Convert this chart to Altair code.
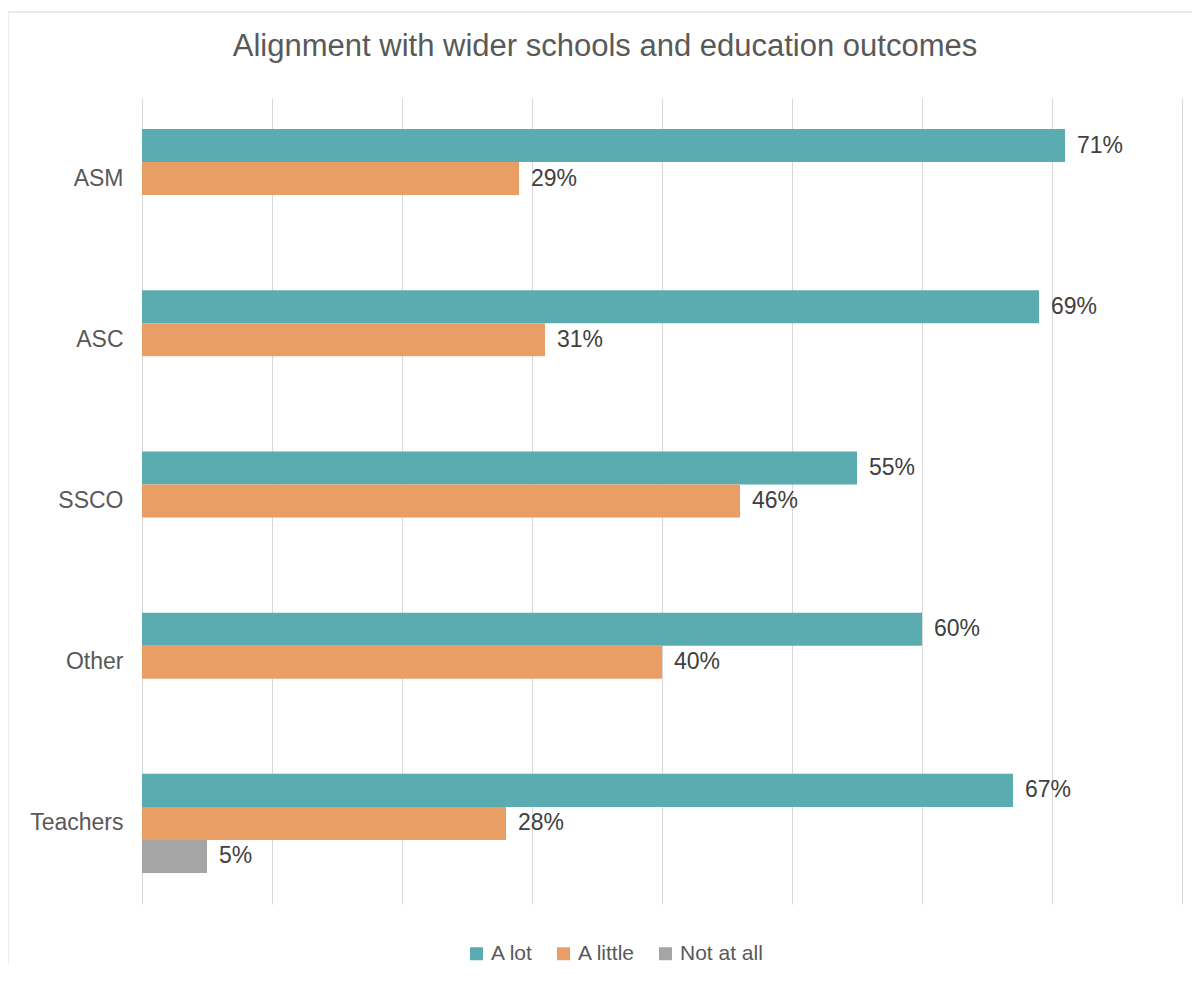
import altair as alt
import pandas as pd

categories = ["ASM", "ASC", "SSCO", "Other", "Teachers"]
series = ["A lot", "A little", "Not at all"]
colors = ["#5AACB1", "#E89E65", "#A5A5A5"]

a_lot = [71, 69, 55, 60, 67]
a_little = [29, 31, 46, 40, 28]
not_at_all = [None, None, None, None, 5]

rows = []
for i, c in enumerate(categories):
    for s, vals in zip(series, [a_lot, a_little, not_at_all]):
        v = vals[i]
        if v is not None:
            rows.append({"group": c, "series": s, "value": v, "label": f"{v}%"})
df = pd.DataFrame(rows)

FONT = "Liberation Sans"

x_enc = alt.X(
    "value:Q",
    scale=alt.Scale(domain=[0, 80], nice=False, zero=True),
    axis=alt.Axis(
        values=[0, 10, 20, 30, 40, 50, 60, 70, 80],
        grid=True, gridColor="#d9d9d9", gridWidth=1,
        labels=False, ticks=False, domain=False, title=None,
    ),
)
y_enc = alt.Y(
    "group:N",
    sort=categories,
    scale=alt.Scale(domain=categories, paddingInner=0.385, paddingOuter=0.1925),
    axis=alt.Axis(
        title=None, ticks=False, domain=False, grid=False,
        labelFontSize=23, labelColor="#595959", labelFont=FONT,
        labelPadding=19,
    ),
)
yoff_enc = alt.YOffset(
    "series:N",
    sort=series,
    scale=alt.Scale(domain=series, paddingInner=0, paddingOuter=0),
)

bars = alt.Chart(df).mark_bar().encode(
    x=x_enc,
    y=y_enc,
    yOffset=yoff_enc,
    color=alt.Color(
        "series:N",
        scale=alt.Scale(domain=series, range=colors),
        legend=alt.Legend(
            title=None, orient="none", direction="horizontal",
            legendX=324, legendY=845,
            symbolType="square", symbolSize=169, symbolStrokeWidth=0,
            labelFontSize=21, labelColor="#595959", labelFont=FONT,
            labelOffset=4, columnPadding=19, padding=0,
        ),
    ),
)

labels = alt.Chart(df).mark_text(
    align="left", baseline="middle", dx=12, fontSize=23, color="#404040", font=FONT
).encode(
    x=alt.X("value:Q"),
    y=alt.Y("group:N", sort=categories),
    yOffset=alt.YOffset("series:N", sort=series),
    text=alt.Text("label:N"),
)

border = alt.Chart(alt.Data(values=[{}])).mark_rect(
    fill="transparent", stroke="#d9d9d9", strokeWidth=1
).encode(
    x=alt.value(-134), x2=alt.value(1200),
    y=alt.value(-86), y2=alt.value(1000),
)

chart = alt.layer(border, bars, labels).properties(
    width=1040,
    height=806,
    background="white",
    title=alt.TitleParams(
        "Alignment with wider schools and education outcomes",
        fontSize=31, font=FONT, color="#595959", fontWeight="normal",
        anchor="middle", frame="group", dx=-57, offset=0, dy=51,
    ),
    autosize=alt.AutoSizeParams(type="none"),
    padding={"left": 134, "top": 90, "right": 10, "bottom": 60},
).configure_view(strokeWidth=0, stroke="transparent")

chart.save("out.html", embed_options={"renderer": "svg", "actions": False})
